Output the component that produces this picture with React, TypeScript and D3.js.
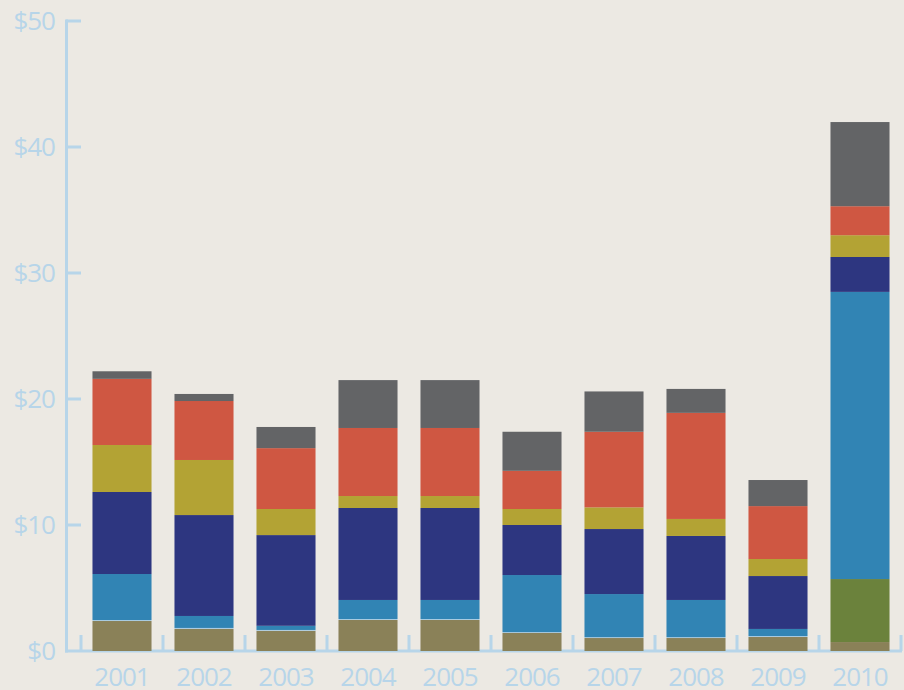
import React, { useEffect, useRef } from "react";
import * as d3 from "d3";

const years = ["2001","2002","2003","2004","2005","2006","2007","2008","2009","2010"];
const seriesKeys = ["base","sep","green","blue","navy","mustard","red","gray"];
const base    = [2.38,1.75,1.6,2.46,2.46,1.43,1.03,1.03,1.11,0.71];
const sep     = [0.08,0.08,0.07,0.08,0.08,0.07,0.07,0.07,0.08,0];
const green   = [0,0,0,0,0,0,0,0,0,5.0];
const blue    = [3.65,0.95,0.33,1.51,1.51,4.53,3.42,2.95,0.56,22.79];
const navy    = [6.51,8.01,7.2,7.3,7.3,3.97,5.16,5.08,4.2,2.77];
const mustard = [3.73,4.37,2.07,0.95,0.95,1.27,1.72,1.35,1.35,1.73];
const red     = [5.25,4.68,4.83,5.4,5.4,3.03,6.0,8.42,4.2,2.3];
const gray    = [0.6,0.56,1.68,3.8,3.8,3.1,3.2,1.9,2.07,6.68];
const yTicks = [0,10,20,30,40,50];
const colors: Record<string,string> = {
  base: "#8a8158", sep: "#a9cbe0", green: "#6b823c", blue: "#3184b4",
  navy: "#2d3680", mustard: "#b3a334", red: "#cf5742", gray: "#636466",
};

export default function App() {
  const ref = useRef<SVGSVGElement>(null);
  useEffect(() => {
    const svg = d3.select(ref.current);
    svg.selectAll("*").remove();
    const W = 904, H = 690;
    const axisColor = "#b7d5e9";
    const font = "'Open Sans', sans-serif";
    svg.append("rect").attr("width", W).attr("height", H).attr("fill", "#ece9e3");

    const y = d3.scaleLinear().domain([0, 50]).range([651, 21]);
    const x = d3.scaleBand().domain(years).range([81, 901]).paddingInner(0.28).paddingOuter(0.14);

    const table = years.map((yr, i) => ({
      year: yr, base: base[i], sep: sep[i], green: green[i], blue: blue[i],
      navy: navy[i], mustard: mustard[i], red: red[i], gray: gray[i],
    }));
    const stacked = d3.stack<any>().keys(seriesKeys)(table);

    // axes
    const g = svg.append("g");
    g.append("line").attr("x1", 66.5).attr("x2", 66.5).attr("y1", y(50) - 1.5).attr("y2", y(0) + 1.5)
      .attr("stroke", axisColor).attr("stroke-width", 3);
    g.append("line").attr("x1", 65).attr("x2", 902).attr("y1", y(0)).attr("y2", y(0))
      .attr("stroke", axisColor).attr("stroke-width", 3);
    yTicks.filter(t => t > 0).forEach(t => {
      g.append("line").attr("x1", 66).attr("x2", 81).attr("y1", y(t)).attr("y2", y(t))
        .attr("stroke", axisColor).attr("stroke-width", 3);
    });
    const step = x.step();
    d3.range(years.length + 1).forEach(i => {
      const xx = 81 + i * step;
      g.append("line").attr("x1", xx).attr("x2", xx).attr("y1", y(0)).attr("y2", y(0) - 16)
        .attr("stroke", axisColor).attr("stroke-width", 3);
    });
    yTicks.forEach(t => {
      g.append("text").attr("x", 55).attr("y", y(t)).attr("dy", "0.36em")
        .attr("text-anchor", "end").attr("fill", axisColor)
        .attr("font-family", font).attr("font-size", 26).attr("letter-spacing", -1)
        .text("$" + t);
    });

    // bars
    stacked.forEach(s => {
      svg.append("g").attr("fill", colors[s.key as string])
        .selectAll("rect").data(s).join("rect")
        .attr("x", (d: any) => x(d.data.year)!)
        .attr("width", x.bandwidth())
        .attr("y", (d: any) => y(d[1]))
        .attr("height", (d: any) => Math.max(0, y(d[0]) - y(d[1])));
    });

    // x labels
    years.forEach(yr => {
      svg.append("text").attr("x", x(yr)! + x.bandwidth() / 2).attr("y", 686)
        .attr("text-anchor", "middle").attr("fill", axisColor)
        .attr("font-family", font).attr("font-size", 26).attr("letter-spacing", -1)
        .text(yr);
    });
  }, []);
  return (
    <svg ref={ref} width={904} height={690}
      style={{ position: "absolute", left: 0, top: 0, display: "block" }} />
  );
}
